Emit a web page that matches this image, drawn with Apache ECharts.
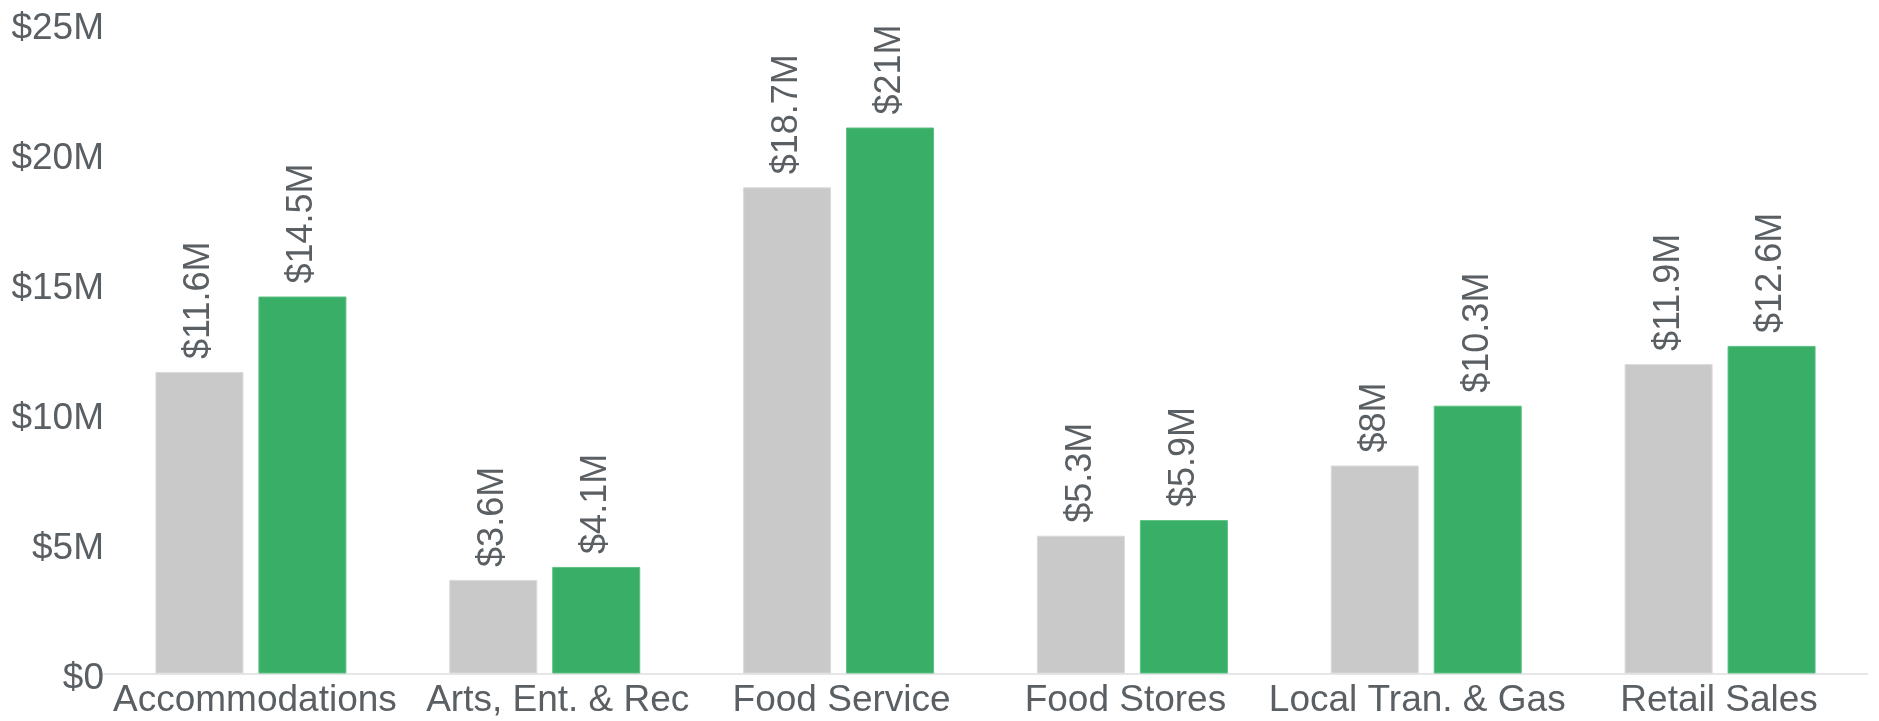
<!DOCTYPE html>
<html>
<head>
<meta charset="utf-8">
<title>Visitor Spending by Category</title>
<script src="https://cdn.jsdelivr.net/npm/echarts@6/dist/echarts.min.js"></script>
<style>
  html, body { margin: 0; padding: 0; background: #ffffff; }
  #chart { width: 1879px; height: 721px; }
</style>
</head>
<body>
<div id="chart"></div>
<script>
// Spending categories along the x axis
const categories = ['Accommodations', 'Arts, Ent. & Rec', 'Food Service', 'Food Stores', 'Local Tran. & Gas', 'Retail Sales'];
// Spending in millions of dollars
const previousValues = [11.6, 3.6, 18.7, 5.3, 8, 11.9];
const currentValues = [14.5, 4.1, 21, 5.9, 10.3, 12.6];
// Value axis ticks (millions)
const yTicks = [0, 5, 10, 15, 20, 25];

// Small horizontal nudges (px) for the category labels
const labelNudge = [4, 13, 3, -7, -9, -1];

const textColor = '#5a5f63';
const fontFamily = '"Liberation Sans", Arial, Helvetica, sans-serif';

const money = v => (v === 0 ? '$0' : '$' + v + 'M');

// One rich style per category label so each can be nudged sideways
const categoryRich = {};
labelNudge.forEach((s, i) => {
  categoryRich['c' + i] = {
    color: textColor,
    fontSize: 37,
    fontFamily: fontFamily,
    padding: s >= 0 ? [0, 0, 0, 2 * s] : [0, -2 * s, 0, 0]
  };
});

const barLabel = {
  show: true,
  position: 'top',
  rotate: 90,
  align: 'left',
  verticalAlign: 'middle',
  distance: 13,
  color: textColor,
  fontSize: 36,
  fontFamily: fontFamily,
  formatter: p => money(p.value)
};

const chart = echarts.init(document.getElementById('chart'), null, { renderer: 'canvas' });
chart.setOption({
  animation: false,
  backgroundColor: '#ffffff',
  grid: { left: 104, right: 12, top: 23.5, bottom: 47.5, containLabel: false },
  xAxis: {
    type: 'category',
    data: categories,
    axisLine: { show: true, lineStyle: { color: '#e6e6e6', width: 2 } },
    axisTick: { show: false },
    axisLabel: {
      margin: 9,
      interval: 0,
      formatter: (value, index) => '{c' + index + '|' + value + '}',
      rich: categoryRich
    }
  },
  yAxis: {
    type: 'value',
    min: yTicks[0],
    max: yTicks[yTicks.length - 1],
    interval: yTicks[1] - yTicks[0],
    splitLine: { show: false },
    axisLine: { show: false },
    axisTick: { show: false },
    axisLabel: {
      margin: 0,
      formatter: v => '{v|' + money(v) + '}',
      rich: {
        v: {
          color: textColor,
          fontSize: 37,
          fontFamily: fontFamily,
          padding: [10, 0, 0, 0]
        }
      }
    }
  },
  series: [
    {
      name: 'Previous',
      type: 'bar',
      data: previousValues,
      barWidth: 88,
      barGap: '17%',
      itemStyle: { color: '#c9c9c9', borderColor: '#dadada', borderWidth: 1 },
      label: barLabel
    },
    {
      name: 'Current',
      type: 'bar',
      data: currentValues,
      barWidth: 88,
      barGap: '17%',
      itemStyle: { color: '#38ae66', borderColor: '#5cc083', borderWidth: 1 },
      label: barLabel
    }
  ]
});
</script>
</body>
</html>
